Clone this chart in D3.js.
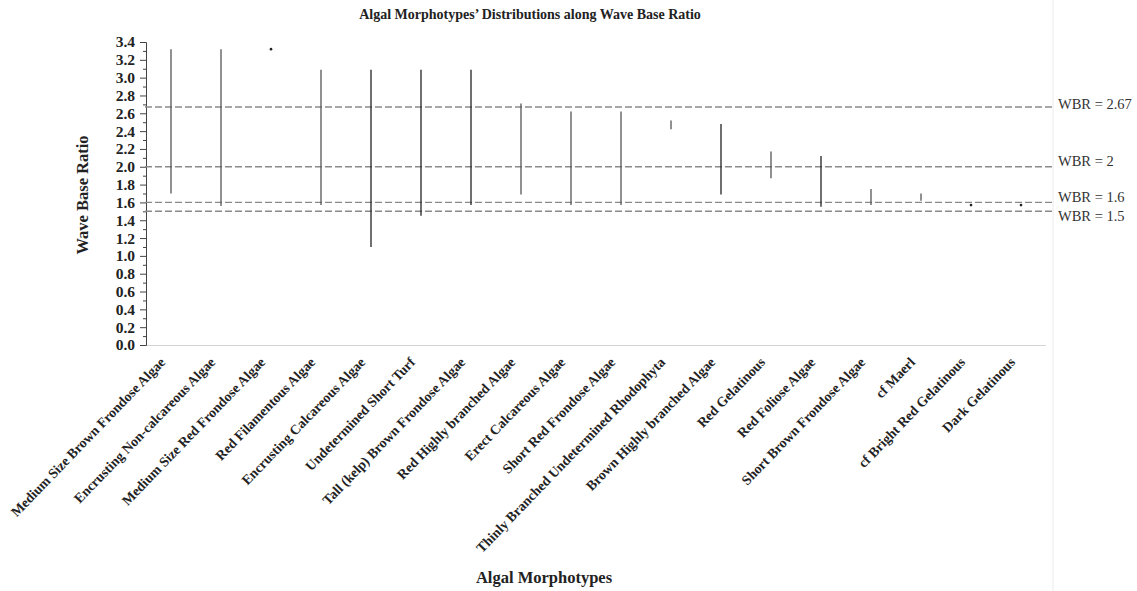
<!DOCTYPE html>
<html><head><meta charset="utf-8">
<script src="https://cdn.jsdelivr.net/npm/d3@7"></script>
<style>body{margin:0;background:#fff}svg{display:block}</style>
</head><body>
<svg id="chart" width="1137" height="591"></svg>
<script>
const categories = ["Medium Size Brown Frondose Algae","Encrusting Non-calcareous Algae","Medium Size Red Frondose Algae","Red Filamentous Algae","Encrusting Calcareous Algae","Undetermined Short Turf","Tall (kelp) Brown Frondose Algae","Red Highly branched Algae","Erect Calcareous Algae","Short Red Frondose Algae","Thinly Branched Undetermined Rhodophyta","Brown Highly branched Algae","Red Gelatinous","Red Foliose Algae","Short Brown Frondose Algae","cf Maerl","cf Bright Red Gelatinous","Dark Gelatinous"];
const maxValues = [3.32,3.32,3.32,3.09,3.09,3.09,3.09,2.71,2.62,2.62,2.52,2.48,2.17,2.12,1.75,1.70,1.57,1.57];
const minValues = [1.70,1.56,3.32,1.57,1.10,1.45,1.57,1.69,1.57,1.57,2.42,1.69,1.87,1.55,1.57,1.62,1.57,1.57];
const yTicks = [0,0.2,0.4,0.6,0.8,1.0,1.2,1.4,1.6,1.8,2.0,2.2,2.4,2.6,2.8,3.0,3.2,3.4];
const refValues = [2.67,2,1.6,1.5];
const refLabels = ["WBR = 2.67","WBR = 2","WBR = 1.6","WBR = 1.5"];
const title = "Algal Morphotypes\u2019 Distributions along Wave Base Ratio";
const xTitle = "Algal Morphotypes";
const yTitle = "Wave Base Ratio";

const svg = d3.select("#chart");
const serif = "'Liberation Serif','DejaVu Serif',serif";
const L = 146, R = 1046, T = 42, B = 345;
const x = d3.scaleBand().domain(categories).range([L, R]);
const y = d3.scaleLinear().domain([0, 3.4]).range([B, T]);

// faint right boundary
svg.append("line").attr("x1",1053).attr("x2",1053).attr("y1",0).attr("y2",591)
  .attr("stroke","#ececec").attr("stroke-width",1);

// title
svg.append("text").attr("x",530).attr("y",19).attr("text-anchor","middle")
  .attr("font-family",serif).attr("font-weight","bold").attr("font-size",14).attr("fill","#222").text(title);

// x axis line
svg.append("line").attr("x1",L).attr("x2",R).attr("y1",B+0.5).attr("y2",B+0.5)
  .attr("stroke","#d4d4d4").attr("stroke-width",1);

// y axis
const yAxis = d3.axisLeft(y).tickValues(yTicks).tickFormat(d3.format(".1f")).tickSize(6).tickPadding(5);
const ga = svg.append("g").attr("transform",`translate(${L},0)`).call(yAxis);
ga.select(".domain").attr("stroke","#444");
ga.selectAll(".tick line").attr("stroke","#444");
ga.selectAll(".tick text").attr("font-family",serif).attr("font-weight","bold").attr("font-size",15.5).attr("fill","#222");
// minor ticks
const minor = d3.range(1,34,2).map(d=>d/10);
svg.append("g").selectAll("line").data(minor).join("line")
  .attr("x1",L-3).attr("x2",L).attr("y1",d=>y(d)+0.5).attr("y2",d=>y(d)+0.5).attr("stroke","#444");

// reference lines
const refG = svg.append("g");
refG.selectAll("line").data(refValues).join("line")
  .attr("x1",L-1).attr("x2",1053).attr("y1",d=>y(d)).attr("y2",d=>y(d))
  .attr("stroke","#8a8a8a").attr("stroke-width",1.4).attr("stroke-dasharray","7,3");
const labOff = [-1,-4,-4,6];
refG.selectAll("text").data(refValues).join("text")
  .attr("x",1058).attr("y",(d,i)=>y(d)+labOff[i]).attr("dominant-baseline","middle")
  .attr("font-family",serif).attr("font-size",14.5).attr("fill","#333").text((d,i)=>refLabels[i]);

// range bars
const cx = d => x(d) + x.bandwidth()/2;
const idx = d3.range(categories.length);
const darkSet = new Set([4,5,6,11,13]);
svg.append("g").selectAll("line").data(idx).join("line")
  .attr("x1",i=>cx(categories[i])).attr("x2",i=>cx(categories[i]))
  .attr("y1",i=>y(maxValues[i])).attr("y2",i=>y(minValues[i]))
  .attr("stroke",i=>darkSet.has(i)?"#222":"#555").attr("stroke-width",1.3);
svg.append("g").selectAll("circle").data(idx.filter(i=>maxValues[i]===minValues[i])).join("circle")
  .attr("cx",i=>cx(categories[i])).attr("cy",i=>y(maxValues[i])).attr("r",1.3).attr("fill","#222");

// x labels
svg.append("g").selectAll("text").data(categories).join("text")
  .attr("transform",d=>`translate(${cx(d)-5},${B+18}) rotate(-46)`)
  .attr("text-anchor","end")
  .attr("font-family",serif).attr("font-weight","bold").attr("font-size",13.8).attr("fill","#222").text(d=>d);

// axis titles
svg.append("text").attr("x",544).attr("y",583).attr("text-anchor","middle")
  .attr("font-family",serif).attr("font-weight","bold").attr("font-size",16.5).attr("fill","#222").text(xTitle);
svg.append("text").attr("transform","translate(88,195) rotate(-90)").attr("text-anchor","middle")
  .attr("font-family",serif).attr("font-weight","bold").attr("font-size",16.5).attr("fill","#222").text(yTitle);
</script>
</body></html>
